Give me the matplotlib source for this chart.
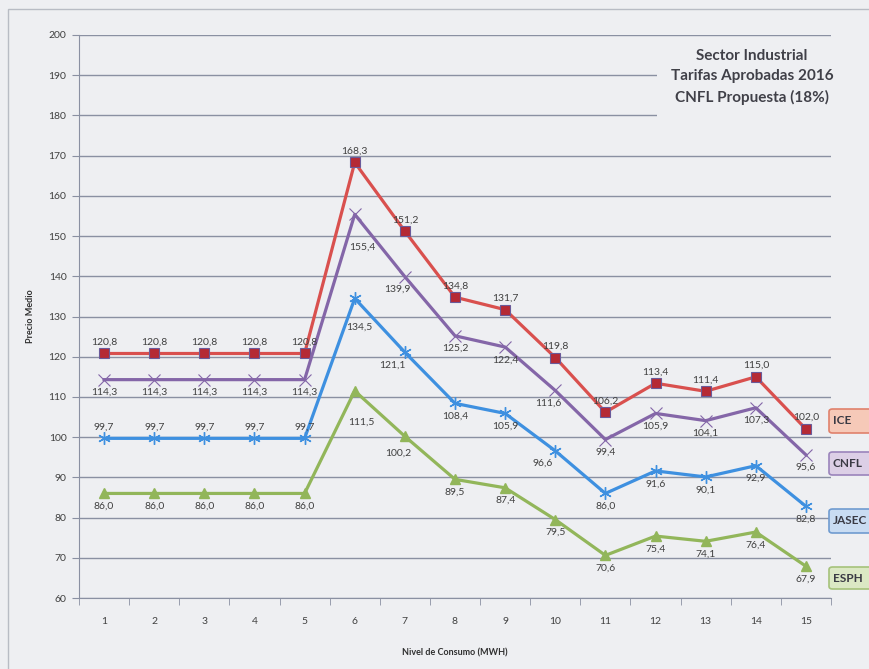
import matplotlib
matplotlib.use('Agg')
import matplotlib.pyplot as plt
from matplotlib.patches import Rectangle, FancyBboxPatch

plt.rcParams['font.family'] = ['Lato', 'DejaVu Sans']

# data
niveles = list(range(1, 16))
ice = [120.8, 120.8, 120.8, 120.8, 120.8, 168.3, 151.2, 134.8, 131.7, 119.8,
       106.2, 113.4, 111.4, 115.0, 102.0]
cnfl = [114.3, 114.3, 114.3, 114.3, 114.3, 155.4, 139.9, 125.2, 122.4, 111.6,
        99.4, 105.9, 104.1, 107.3, 95.6]
jasec = [99.7, 99.7, 99.7, 99.7, 99.7, 134.5, 121.1, 108.4, 105.9, 96.6,
         86.0, 91.6, 90.1, 92.9, 82.8]
esph = [86.0, 86.0, 86.0, 86.0, 86.0, 111.5, 100.2, 89.5, 87.4, 79.5,
        70.6, 75.4, 74.1, 76.4, 67.9]
nombres = ['ICE', 'CNFL', 'JASEC', 'ESPH']
titulo = 'Sector Industrial\nTarifas Aprobadas 2016\nCNFL Propuesta (18%)'

bg = '#eeeff2'
W, H = 870, 669
fig = plt.figure(figsize=(W / 100, H / 100), dpi=100, facecolor=bg)

# outer chart border
fig.add_artist(Rectangle((8 / W, -0.1), 1.2, 1 - 9 / H + 0.1,
                         transform=fig.transFigure, fill=False,
                         ec='#b8bcc4', lw=1))

ax = fig.add_axes([79 / W, 1 - 598 / H, (831 - 79) / W, (598 - 35) / H])
ax.set_facecolor(bg)
ax.set_xlim(0.5, 15.5)
ax.set_ylim(60, 200)
ax.set_yticks(range(60, 201, 10))
ax.set_xticks(niveles)
ax.set_xticks([i + 0.5 for i in range(0, 16)], minor=True)
ax.grid(True, axis='y', color='#8a90a2', lw=1)
ax.set_axisbelow(True)
for s in ['top', 'right']:
    ax.spines[s].set_visible(False)
for s in ['left', 'bottom']:
    ax.spines[s].set_color('#8a90a2')
ax.tick_params(axis='y', length=5, color='#8a90a2', labelsize=7.5,
               labelcolor='#404040', pad=4)
ax.tick_params(axis='x', which='major', length=0, labelsize=7.5,
               labelcolor='#404040', pad=14)
ax.tick_params(axis='x', which='minor', length=5, color='#8a90a2')
ax.set_ylabel('Precio Medio', fontsize=6.5, fontweight='bold', color='#303030',
              labelpad=10)
ax.set_xlabel('Nivel de Consumo (MWH)', fontsize=6.5, fontweight='bold',
              color='#303030', labelpad=16)

series = [
    (ice, '#d9504e', dict(marker='s', ms=7, mfc='#b52a35', mec='#6a5a9a', mew=0.8), 'above'),
    (cnfl, '#8466a8', dict(marker='x', ms=8, mew=0.8, mec='#8466a8'), 'below'),
    (jasec, '#3e90e0', dict(marker=(6, 2, 0), ms=9, mew=1.0, mec='#3e90e0'), 'jasec'),
    (esph, '#92b65a', dict(marker='^', ms=7, mfc='#92b65a', mec='#92b65a'), 'below'),
]

# hand-moved labels in the original (series index, point index) -> (dx, dy) px
ajustes = {(1, 5): (8, -20), (2, 5): (5, -16), (3, 5): (7, -18),
           (1, 6): (-8, 0), (2, 6): (-13, 0), (3, 6): (-7, -4),
           (1, 9): (-7, 0), (2, 9): (-13, 0)}

for k, (vals, col, mk, pos) in enumerate(series):
    ax.plot(niveles, vals, color=col, lw=2.3, zorder=3, **mk)
    for i, (x, y) in enumerate(zip(niveles, vals)):
        up = pos == 'above' or (pos == 'jasec' and i < 5)
        dx, dy = ajustes.get((k, i), (0, 0))
        lab = ('%.1f' % y).replace('.', ',')
        ax.annotate(lab, (x, y),
                    xytext=(dx * 0.72, (5 if up else -6) + dy * 0.72),
                    textcoords='offset points', ha='center',
                    va='bottom' if up else 'top', fontsize=7.5,
                    color='#404040', zorder=4)

# title box covering the grid
fig.add_artist(Rectangle((657 / W, 1 - 120 / H), (833 - 657) / W, 80 / H,
                         transform=fig.transFigure, fc=bg, ec='none'))
fig.text(752 / W, 1 - 77 / H, titulo, ha='center', va='center', fontsize=11,
         fontweight='bold', color='#404048', linespacing=1.6)

# series name boxes on the right
cajas = [('#f6c9b8', '#e0816c', 409, 433),
         ('#dccfe6', '#9a84bb', 452, 475),
         ('#c9dcf2', '#6f9bd0', 509, 533),
         ('#dbe8c4', '#a5c27a', 567, 589)]
for nom, (fc, ec, y0, y1) in zip(nombres, cajas):
    fig.add_artist(FancyBboxPatch((829 / W, 1 - y1 / H), 80 / W, (y1 - y0) / H,
                                  boxstyle='round,pad=0,rounding_size=0.004',
                                  transform=fig.transFigure, fc=fc, ec=ec, lw=1.2))
    fig.text(833 / W, 1 - (y0 + y1) / 2 / H, nom, ha='left', va='center',
             fontsize=8.5, fontweight='bold', color='#3a3a44')

fig.savefig('out.png', dpi=100, facecolor=bg)
